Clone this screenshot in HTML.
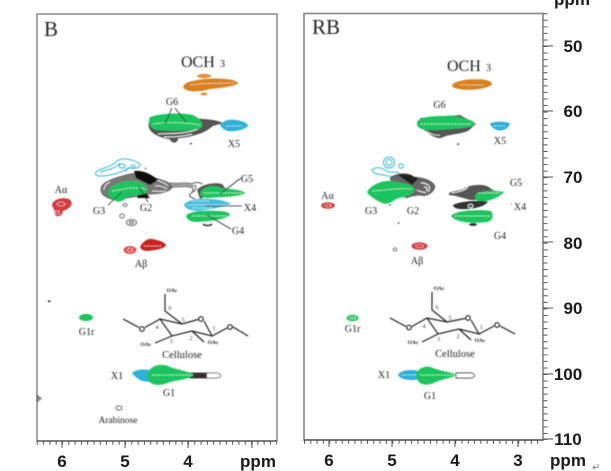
<!DOCTYPE html>
<html><head><meta charset="utf-8"><style>
html,body{margin:0;padding:0;background:#fff;width:611px;height:471px;overflow:hidden}
svg{display:block}
text{font-family:"Liberation Serif",serif;fill:#222}
.b{font-family:"Liberation Sans",sans-serif;font-weight:bold;font-size:17px;fill:#1a1a1a;text-anchor:middle}
.l{font-size:10px;text-anchor:middle}
.s{font-size:5.5px;font-weight:bold;text-anchor:middle}
.n{font-size:6.5px;text-anchor:middle;fill:#444}
.w{fill:none;stroke:#fff;stroke-width:.8;stroke-dasharray:2 1;opacity:.8}
.k{fill:none;stroke:#444;stroke-width:.8}
.g{fill:none;stroke:#444;stroke-width:.9}
.c{fill:none;stroke:#35b5d8;stroke-width:1}
.r{fill:none;stroke:#222;stroke-width:1.200}
</style></head><body>
<svg width="611" height="471" viewBox="0 0 611 471" xmlns="http://www.w3.org/2000/svg">
<defs><filter id="f" x="-10%" y="-10%" width="120%" height="120%"><feGaussianBlur stdDeviation=".45"/></filter></defs>

<rect x="37" y="14" width="240" height="427" fill="#fff" stroke="#8a8a8a" stroke-width="1.500"/>
<rect x="304" y="13.500" width="239" height="426.500" fill="#fff" stroke="#8a8a8a" stroke-width="1.700"/>
<path d="M37 441H277M304 440H543" stroke="#555" stroke-width="1.200"/>

<g stroke="#555" fill="none">
<line x1="36.800" y1="443" x2="277" y2="443" stroke-width="3.500" stroke-dasharray="1 5.300"/>
<line x1="304" y1="442" x2="543" y2="442" stroke-width="3.500" stroke-dasharray="1 5.300"/>
<path d="M62 441v7M125 441v7M188 441v7M252 441v7M329 440v7M392 440v7M455 440v7M518 440v7" stroke-width="1"/>
<line x1="545.500" y1="13.200" x2="545.500" y2="440" stroke-width="4" stroke-dasharray="1 5.560"/>
<path d="M543 46h10M543 111h10M543 177h10M543 242h10M543 308h10M543 374h10M543 439h10" stroke-width="1"/>
</g>

<text class="b" x="62" y="467">6</text><text class="b" x="125" y="467">5</text><text class="b" x="188" y="467">4</text>
<text class="b" x="258" y="467">ppm</text>
<text class="b" x="329" y="466">6</text><text class="b" x="392" y="466">5</text><text class="b" x="455" y="466">4</text><text class="b" x="518" y="466">3</text>
<text class="b" x="568" y="466">ppm</text>
<text class="b" x="572" y="5">ppm</text>
<text class="b" x="573" y="52">50</text><text class="b" x="573" y="117">60</text><text class="b" x="573" y="183">70</text><text class="b" x="573" y="249">80</text><text class="b" x="573" y="314">90</text><text class="b" x="568" y="380">100</text><text class="b" x="568" y="445">110</text>
<path d="M598 464v3.500h-5m2-2l-2 2 2 2" fill="none" stroke="#777" stroke-width=".8"/>

<g filter="url(#f)">
<!-- LEFT PANEL -->
<text x="44" y="36" style="font-size:21px">B</text>
<text x="181" y="67" style="font-size:16px">OCH</text><text x="220" y="67" style="font-size:10px">3</text>
<path d="M183 87C184 83 190 81 198 80 206 78 224 78 232 80 236 81 238 82 238 83.500 232 87 220 88 210 89 200 92 186 93 183 87Z" fill="#d9811f"/>
<ellipse cx="204" cy="76" rx="7" ry="2.200" fill="#dd9240"/><ellipse cx="204" cy="94" rx="3.500" ry="1.500" fill="#dd9240"/>
<path class="w" d="M190 85C205 83 220 83 234 83"/>

<path d="M149 124C148 132 158 137 170 139 172 143 177 144 178 138 190 137 205 133 212 126 216 124 220 124 222 123 216 120 208 120 200 119L150 118Z" fill="#555" stroke="#333" stroke-width=".6"/>
<path d="M158 134C170 133 182 135 198 129M164 137C172 137 182 137 192 134" fill="none" stroke="#eee" stroke-width="1"/>
<path d="M150 117C160 113 188 112 195 116 201 120 204 124 201 128 190 132 168 131 156 130 149 128 148 122 150 117Z" fill="#1fc45f"/>
<path class="w" d="M153 124C165 122 185 122 200 125"/>
<path d="M220 125C224 120 230 119 236 120 243 121 248 123 248 126 244 130 234 132 228 131 224 130 221 127 220 125Z" fill="#2fb0d8"/>
<path class="w" d="M226 126H242"/>
<text class="l" x="172" y="105">G6</text><text class="l" x="234" y="147">X5</text>
<path d="M172 108L165 124M175 108L186 122" stroke="#222" stroke-width=".8" fill="none"/>
<rect x="190" y="143" width="2" height="1.200" fill="#222"/>

<path class="c" d="M96 172C100 168 110 168 116 162 122 156 134 160 140 164 141 168 135 169 128 168 122 172 112 176 100 176 96 176 95 174 96 172Z"/>
<path class="c" d="M100 172C108 170 116 168 120 163M122 164a3 2 0 1 0 .1 0M125 172l4-5M133 165a2 1.500 0 1 0 .1 0"/>
<circle cx="145.500" cy="168.500" r=".7" fill="#222"/>

<!-- grey contours G2/G3 -->
<path d="M101 190C100 184 108 180 122 176 135 172 146 172 155 178 165 181 172 183 172 187 170 192 160 194 150 194L115 200C106 198 101 195 101 190Z" fill="#777" stroke="#333" stroke-width=".6"/>
<path d="M150 180C156 179 164 182 168 186M155 186C160 185 164 187 167 189M152 191C158 191 162 192 166 191M104 190C104 186 106 184 110 182" stroke="#fff" stroke-width=".8" fill="none"/>
<path d="M134 171C142 170 150 173 158 180L150 185 136 178Z" fill="#111"/>
<path d="M146 193L150 198 137 198 139 193Z" fill="#111"/>
<path class="g" d="M170 183C180 184 186 182 192 184 196 181 200 183 203 184M170 187C178 187 184 186 190 187 194 187 194 192 190 194 188 196 192 198 195 199M172 185C180 185 186 184 193 186 198 184 196 190 193 192"/>
<path d="M108 192C110 184 125 180 135 181 145 182 148 188 147 192 145 196 135 194 128 197 122 202 118 203 114 200 110 198 108 195 108 192Z" fill="#1fc45f"/>
<path class="w" d="M112 191C122 190 130 186 146 189"/>
<path d="M197 190C202 184 214 182 222 184L226 189 200 199Z" fill="#555"/>
<path d="M200 193C203 186 214 184 221 188 232 189 243 190 245 193 240 197 220 197 208 198 203 198 200 196 200 193Z" fill="#1fc45f"/>
<path class="w" d="M204 193H242"/>
<path d="M184 205C186 200 198 198 210 199 220 199 228 202 231 204 224 207 212 209 204 210 194 212 186 210 184 205Z" fill="#4abfe0"/>
<path class="w" d="M188 205H228M192 201H210M192 208H212"/>
<path d="M186 216C189 211 204 210 218 211 226 211 230 213 230 215 224 220 210 221 198 222 190 222 187 220 186 216Z" fill="#1fc45f"/>
<path class="w" d="M192 216H228"/>
<path d="M203 224C205 226 210 226 212 224" stroke="#222" stroke-width="1.500" fill="none"/>

<text class="l" x="247" y="182">G5</text><text class="l" x="250" y="211">X4</text><text class="l" x="238" y="234">G4</text><text class="l" x="99" y="214">G3</text><text class="l" x="146" y="211">G2</text>
<path d="M241 178L220 194M242 206H205M231 229L207 215M108 205L122 192M148 202L139 187" stroke="#222" stroke-width=".8" fill="none"/>
<ellipse cx="125" cy="205" rx="2" ry="1.500" class="k"/><ellipse cx="122" cy="216" rx="2.200" ry="2" class="k"/>
<ellipse cx="131.500" cy="222.500" rx="5" ry="3" class="k"/><ellipse cx="131.500" cy="222.500" rx="2" ry="1.200" class="k"/>

<text class="l" x="61" y="193">Aα</text>
<path d="M52 205C53 199 62 197 69 199 74 203 72 208 63 211 62 215 60 217 56 216 54 214 54 210 54 209 53 208 52 206 52 205Z" fill="#d23b3d"/>
<ellipse cx="61" cy="204" rx="4" ry="2" class="w"/><rect x="55" y="211" width="4" height="3" class="w"/>
<ellipse cx="130" cy="250" rx="6.500" ry="4" fill="#dd5254"/><ellipse cx="130" cy="250" rx="3" ry="1.800" class="w"/>
<path d="M140 247C142 242 148 238 152 239 158 240 165 242 166 245 165 249 155 250 148 251 144 251 141 250 140 247Z" fill="#cc2022"/>
<path class="w" d="M144 246H162"/>
<text class="l" x="141" y="267">Aβ</text>

<rect x="48" y="300.500" width="2.500" height="1.500" fill="#222"/>
<ellipse cx="86" cy="317.500" rx="7" ry="3.600" fill="#1fc45f"/>
<text class="l" x="86.500" y="335">G1r</text>

<path class="r" d="M123 319L139 327.500M145 327.500L160 319 182 324 198 319.500M204 321L212 336 192 331 172 336 160 319M182 324L165 311V294M212 336L227 328M233 327L248 336M192 331L204 342M172 336L155 343"/>
<circle cx="142" cy="329" r="2.300" class="r"/><circle cx="201" cy="319" r="2.300" class="r"/><circle cx="230" cy="327" r="2.300" class="r"/>
<text class="s" x="172" y="292">OAc</text><text class="s" x="213" y="344">OAc</text><text class="s" x="146" y="346">OAc</text>
<text class="n" x="170" y="310">6</text><text class="n" x="183" y="322">5</text><text class="n" x="157" y="329">4</text><text class="n" x="171" y="343">3</text><text class="n" x="191" y="340">2</text><text class="n" x="214" y="330">1</text>
<text class="l" x="182" y="358" style="font-size:10.500px">Cellulose</text>

<path d="M132 373C136 369 144 369 150 370L150 382 142 381C138 379 134 376 132 373Z" fill="#2fb0d8"/>
<path d="M190 373H216C222 373 222 378 216 378H190Z" fill="#fff" stroke="#222" stroke-width=".8"/>
<path d="M190 373H207V378H190Z" fill="#333"/>
<path d="M148 373C150 366 160 363 168 366 176 370 190 371 194 375 190 379 178 380 170 382 162 386 152 386 149 381 147 378 147 376 148 373Z" fill="#1fc45f"/>
<path class="w" d="M152 375H192"/>
<text class="l" x="117" y="379">X1</text><text class="l" x="169" y="396">G1</text>
<ellipse cx="119" cy="408" rx="3" ry="2" class="k"/>
<text class="l" x="118" y="423" style="font-size:9.500px">Arabinose</text>
<path d="M37 395L41.500 398.500 37 402Z" fill="#888" stroke="#444" stroke-width=".5"/>

<!-- RIGHT PANEL -->
<text x="312" y="34" style="font-size:21px">RB</text>
<text x="447" y="71" style="font-size:16px">OCH</text><text x="486" y="71" style="font-size:10px">3</text>
<ellipse cx="472" cy="84.500" rx="20" ry="5.200" fill="#d9811f" transform="rotate(-3 472 84.500)"/>
<path class="w" d="M460 85H484"/>
<text class="l" x="439.500" y="108">G6</text>
<path d="M422 128C428 134 436 139 441 138 448 134 458 135 468 131L476 124 460 115 420 118Z" fill="#555"/>
<path d="M426 131C430 134 436 136 440 135" stroke="#eee" fill="none" stroke-width=".9"/>
<path d="M417 122C420 116 436 116 445 116 455 114 462 118 470 120 476 122 476 126 470 127 455 129 440 130 430 130 420 130 416 127 417 122Z" fill="#1fc45f"/>
<path class="w" d="M421 124H472"/>
<path d="M490 123.500C495 121 505 121 510 123.500 509 128 504 130.500 500 130.500 495 130.500 491 127 490 123.500Z" fill="#2fb0d8"/>
<path class="w" d="M494 126H506"/>
<text class="l" x="500" y="144">X5</text>
<rect x="457" y="143.500" width="2" height="1.200" fill="#222"/>

<circle cx="389" cy="162.500" r="5.500" class="c"/><circle cx="389" cy="162.500" r="3" class="c"/><circle cx="401" cy="166" r="2.300" class="c"/>
<path class="c" d="M372 170C376 166 384 168 388 172 392 172 398 171 399 174 394 178 388 176 384 175 378 175 372 173 372 170Z"/>
<path d="M390 178C396 173 408 172 414 177 425 178 434 181 435 187 433 194 425 197 420 195L412 196 406 198 395 190Z" fill="#666" stroke="#222" stroke-width=".5"/>
<path d="M398 175C406 173 412 175 418 179L412 185Z" fill="#222"/>
<path d="M421 183C428 183 432 187 428 192M424 187C427 187 428 189 426 191M417 190C420 192 424 192 426 193" stroke="#fff" stroke-width=".9" fill="none"/>
<path d="M367 192C370 186 380 180 392 181 402 183 414 184 415 190 413 196 402 197 396 199 390 204 385 205 380 202 374 199 368 195 367 192Z" fill="#1fc45f"/>
<path class="w" d="M372 191C385 190 400 188 412 189"/>
<path d="M449 193C455 190 462 191 466 187 476 184 486 184 490 188L496 192 488 200 470 200 456 196 449 195Z" fill="#555"/>
<path d="M452 193C458 192 464 191 468 187" stroke="#fff" fill="none" stroke-width=".9"/>
<path d="M475 195C480 190 495 190 504 192 500 197 488 202 480 202 476 201 475 198 475 195Z" fill="#1fc45f"/>
<path class="w" d="M478 193H500"/>
<path d="M453 205C460 201 480 200 488 202 484 207 470 210 460 209 456 209 453 207 453 205Z" fill="#333"/>
<ellipse cx="470.500" cy="206" rx="2.500" ry="1.800" fill="none" stroke="#fff" stroke-width=".8"/>
<path d="M451 216C455 210 480 209 491 211 494 215 493 221 487 222 470 224 455 222 451 216Z" fill="#1fc45f"/>
<path class="w" d="M455 216H490"/>
<ellipse cx="473" cy="224.500" rx="4" ry="1.500" fill="#333"/>
<text class="l" x="516" y="186">G5</text><text class="l" x="520" y="210">X4</text><text class="l" x="500" y="239">G4</text><text class="l" x="371" y="214">G3</text><text class="l" x="413" y="214">G2</text>
<circle cx="511" cy="204" r=".5" fill="#444"/><circle cx="398.500" cy="223" r=".8" fill="#222"/><circle cx="390" cy="205" r=".8" fill="#222"/>

<text class="l" x="327.500" y="199">Aα</text>
<ellipse cx="328" cy="205.500" rx="6.800" ry="3.300" fill="#d23b3d"/><ellipse cx="328" cy="205.500" rx="3" ry="1.400" class="w"/>
<ellipse cx="395" cy="249.500" rx="1.800" ry="1.600" class="k"/>
<ellipse cx="419.500" cy="246" rx="8" ry="3.800" fill="#d23b3d"/><ellipse cx="419.500" cy="246" rx="4" ry="1.600" class="w"/>
<text class="l" x="417" y="264">Aβ</text>

<ellipse cx="352.500" cy="318" rx="6" ry="3.200" fill="#1fc45f"/><ellipse cx="352.500" cy="318" rx="3" ry="1.200" class="w"/>
<text class="l" x="352.500" y="332">G1r</text>

<path class="r" d="M390 318L406 326.500M412 326.500L427 318 447 322 465 318.500M471 320L479 334 459 329 438 334 427 318M447 322L432 310V292M479 334L494 326M500 326L515 334M459 329L471 340M438 334L422 342"/>
<circle cx="409" cy="327.500" r="2.300" class="r"/><circle cx="468" cy="318" r="2.300" class="r"/><circle cx="497" cy="325" r="2.300" class="r"/>
<text class="s" x="439" y="290">OAc</text><text class="s" x="480" y="342">OAc</text><text class="s" x="413" y="344">OAc</text>
<text class="n" x="437" y="309">6</text><text class="n" x="450" y="320">5</text><text class="n" x="424" y="328">4</text><text class="n" x="438.500" y="341">3</text><text class="n" x="458" y="338">2</text><text class="n" x="481.500" y="329">1</text>
<text class="l" x="455" y="357" style="font-size:10.500px">Cellulose</text>

<path d="M398 375C400 370 412 369 418 371L420 379 414 380C406 380 400 379 398 375Z" fill="#2fb0d8"/>
<path class="w" d="M402 375H416"/>
<path d="M456 373H470C476 373 476 378 470 378H456Z" fill="#fff" stroke="#222" stroke-width=".9"/>
<path d="M417 372C420 367 428 365 433 368 440 371 452 372 457 375 452 378 442 379 436 382 428 386 420 386 417 379 416 377 416 374 417 372Z" fill="#1fc45f"/>
<path class="w" d="M420 375H456"/>
<text class="l" x="384" y="378">X1</text><text class="l" x="430" y="399">G1</text>
</g>
</svg>
</body></html>
